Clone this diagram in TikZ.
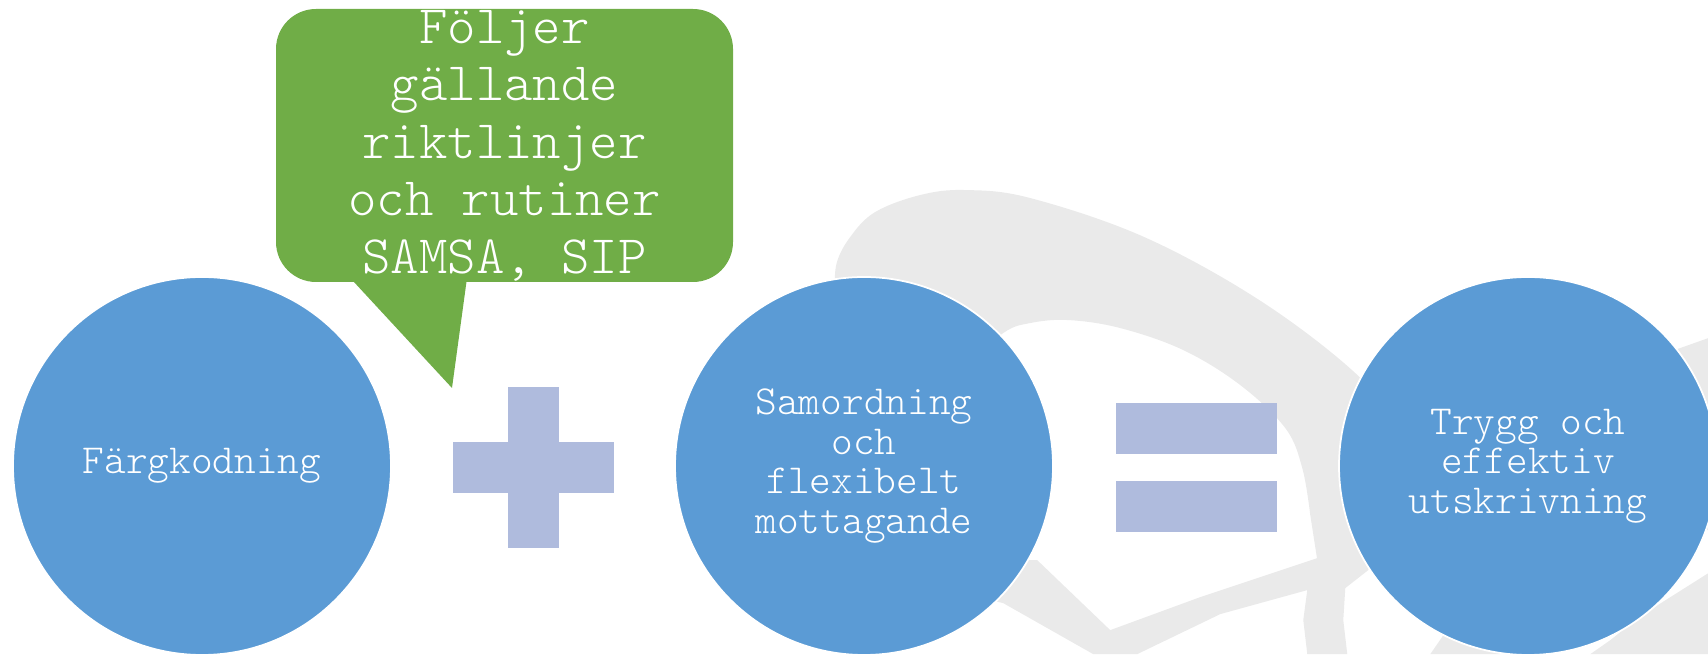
\documentclass[tikz,border=0pt]{standalone}
\usepackage{fontspec}
\newfontfamily\lightmono{lmmonolt10-regular.otf}
\usepackage{xcolor}
\definecolor{smblue}{RGB}{91,155,213}
\definecolor{smgreen}{RGB}{112,173,71}
\definecolor{smlav}{RGB}{175,187,221}
\definecolor{smgray}{RGB}{234,234,234}
\usetikzlibrary{positioning,calc}
\tikzset{
  snode/.style={circle, fill=#1, draw=white, line width=1pt, minimum size=7.56cm,
                inner sep=0pt, text=white, align=center,
                font=\lightmono\fontsize{23.5}{22.5}\selectfont},
  opbar/.style={fill=#1, inner sep=0pt, minimum width=3.22cm, minimum height=1.02cm},
  nbox/.style={fill=#1, rounded corners=0.8cm, inner sep=0pt,
               minimum width=9.14cm, minimum height=5.46cm},
  ntext/.style={text=white, align=center, inner sep=0pt,
                font=\lightmono\fontsize{30.8}{32.7}\selectfont},
  wmark/.style={fill=smgray},
}

\begin{document}
\begin{tikzpicture}
\useasboundingbox (0,0) rectangle (34.16,13.08);

% Watermark (pixel grid)
\begin{scope}[yshift=13.08cm, x=0.02cm, y=-0.02cm]
\fill[wmark] plot[smooth, tension=0.6] coordinates {(835,300) (836,265) (850,237) (875,212)
      (920,195) (965,190) (1030,198) (1144,237) (1259,300) (1355,373) (1400,430)}
  -- (1390,520) -- (1340,545) -- (1317,560)
  -- plot[smooth, tension=0.6] coordinates {(1310,515) (1302,468) (1285,428) (1240,385)
      (1183,350) (1120,328) (1068,320) (1030,323) (1003,333) (960,370)} -- cycle;
\fill[wmark] (990,560) -- (1037,560) -- (1110,630) -- (1200,597) -- (1317,558)
  -- (1350,525) -- (1380,545) -- (1368,570) -- (1345,588) -- (1343,620) -- (1347,654)
  -- (1307,654) -- (1303,620) -- (1307,590) -- (1220,614) -- (1137,654) -- (1093,654)
  -- (1003,603) -- (990,600) -- cycle;
\fill[wmark] (1660,365) -- (1677,349) -- (1708,338) -- (1708,530) -- (1690,530) -- cycle;
\fill[wmark] (1708,573) -- (1640,616) -- (1610,640) -- (1590,654) -- (1708,654) -- cycle;
\fill[wmark] (1430,654) -- (1450,625) -- (1500,640) -- (1500,654) -- cycle;
\end{scope}

% Circles
\node[snode=smblue] (farg) at (4.04,3.76) {Färgkodning};
\node[snode=smblue] (samord) at (17.28,3.76) {Samordning\\och\\flexibelt\\mottagande};
\node[snode=smblue] (trygg) at (30.56,3.76) {Trygg och\\effektiv\\utskrivning};

% Plus
\node[opbar=smlav] (plush) at (10.67,3.73) {};
\node[opbar=smlav, minimum width=1.02cm, minimum height=3.22cm] (plusv) at (10.67,3.73) {};

% Equals
\node[opbar=smlav] (eqtop) at (23.92,4.51) {};
\node[opbar=smlav] (eqbot) at (23.92,2.95) {};

% Callout
\node[nbox=smgreen] (note) at (10.09,10.17) {};
\coordinate (tip) at (9.04,5.32);
\fill[smgreen] ([xshift=1.54cm,yshift=1pt]note.south west) -- (tip)
  -- ([xshift=3.82cm,yshift=1pt]note.south west) -- cycle;
\node[ntext] (notetxt) at (note.center) {Följer\\gällande\\riktlinjer\\och rutiner\\SAMSA, SIP};

\end{tikzpicture}
\end{document}
